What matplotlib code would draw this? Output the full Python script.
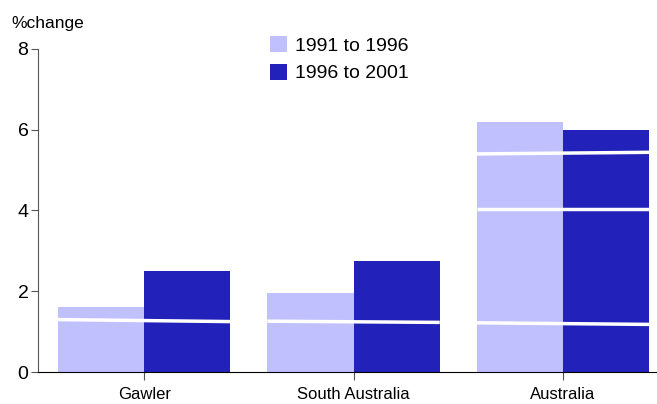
import matplotlib.pyplot as plt
import numpy as np

categories = ['Gawler', 'South Australia', 'Australia']
series_names = ['1991 to 1996', '1996 to 2001']
change_1991_1996 = [1.6, 1.95, 6.2]
change_1996_2001 = [2.5, 2.75, 6.0]
# white streaks crossing each bar group: (group, left value, right value)
streaks = [(0, 1.30, 1.25), (1, 1.26, 1.23),
           (2, 1.22, 1.18), (2, 4.03, 4.03), (2, 5.40, 5.44)]

light = '#c0c0ff'
dark = '#2222bb'

plt.rcParams['font.family'] = ['Liberation Sans', 'DejaVu Sans']
fig = plt.figure(figsize=(6.57, 4.04), dpi=100)
ax = fig.add_axes([0.058, 0.079, 0.942, 0.80])

x = np.arange(len(categories))
w = 0.412
ax.bar(x - w / 2, change_1991_1996, w, color=light, label=series_names[0], zorder=2)
ax.bar(x + w / 2, change_1996_2001, w, color=dark, label=series_names[1], zorder=2)

for g, y0, y1 in streaks:
    ax.plot([g - w, g + w], [y0, y1], color='white', lw=2.5, zorder=3,
            solid_capstyle='butt')

ax.set_xlim(-0.507, 2.45)
ax.set_ylim(0, 8)
ax.set_yticks([0, 2, 4, 6, 8])
ax.set_xticks(x)
ax.set_xticklabels(categories)
ax.tick_params(axis='y', length=5, color='#555555', labelsize=14, pad=2)
ax.tick_params(axis='x', length=6, color='#555555', labelsize=12, pad=5)

for s in ['top', 'right']:
    ax.spines[s].set_visible(False)
ax.spines['left'].set_color('#555555')
ax.spines['bottom'].set_color('black')
ax.spines['bottom'].set_zorder(4)

fig.text(0.018, 0.93, '%change', fontsize=12.5)

ax.legend(loc='upper left', bbox_to_anchor=(0.411, 0.91),
          bbox_transform=fig.transFigure, frameon=False, borderpad=0,
          borderaxespad=0, fontsize=14, handlelength=0.875, handleheight=0.875,
          handletextpad=0.4, labelspacing=0.45)

fig.savefig('out.png', dpi=100)
